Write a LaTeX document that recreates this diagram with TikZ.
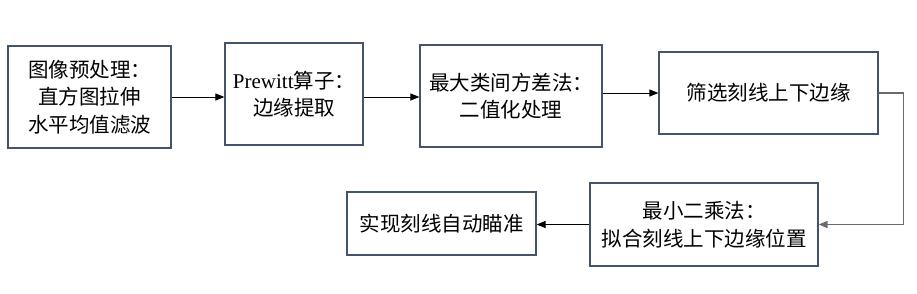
\documentclass[tikz,border=0pt]{standalone}
\usepackage{fontspec}
\setmainfont{Liberation Serif}
\newfontfamily\cjk{Noto Sans CJK SC}
\usetikzlibrary{positioning, arrows.meta}
\definecolor{boxline}{HTML}{44546A}
\definecolor{linkgray}{HTML}{6B6B6B}

\begin{document}
\begin{tikzpicture}[x=1pt, y=-1pt,
    box/.style={draw=boxline, line width=1.2pt, align=center, inner sep=0pt,
        font=\fontsize{20.5}{27.5}\selectfont\cjk},
    arr/.style={-{Triangle[length=9pt, width=7pt]}, line width=1pt}]
    \useasboundingbox (0,0) rectangle (917,293);

    % Erste Reihe
    \node[box, minimum width=163pt, minimum height=102pt] (pre) at (89.5, 97) {图像预处理：\\直方图拉伸\\水平均值滤波};
    \node[box, minimum width=138pt, minimum height=102pt] (prew) at (294, 94) {{\rmfamily\fontsize{21}{27.5}\selectfont Prewitt}算子：\\边缘提取};
    \node[box, minimum width=182pt, minimum height=102pt] (otsu) at (511, 96) {最大类间方差法：\\二值化处理};
    \node[box, minimum width=219pt, minimum height=82pt] (sel) at (768.5, 93) {筛选刻线上下边缘};

    % Zweite Reihe
    \node[box, minimum width=228pt, minimum height=83pt] (fit) at (704, 224.5) {最小二乘法：\\拟合刻线上下边缘位置};
    \node[box, minimum width=189pt, minimum height=63pt] (aim) at (441.5, 223.5) {实现刻线自动瞄准};

    % Verbindungen
    \draw[arr] (pre.east) -- (pre.east -| prew.west);
    \draw[arr] (prew.east) ++(0,3) coordinate (p2) -- (p2 -| otsu.west);
    \draw[arr] (otsu.east) ++(0,-3) -- (sel.west);
    \draw[arr, draw=linkgray, line width=1.5pt] (sel.east) -- ++(25,0) |- (fit.east);
    \draw[arr] (fit.west) -- (fit.west -| aim.east);
\end{tikzpicture}
\end{document}
